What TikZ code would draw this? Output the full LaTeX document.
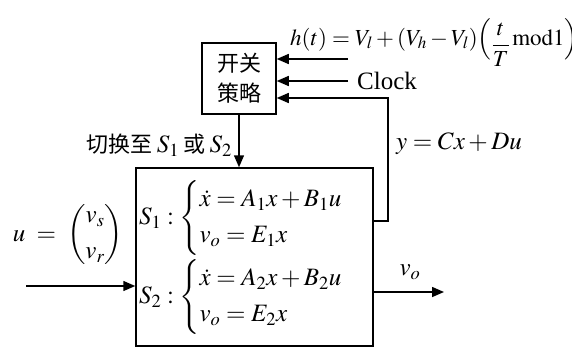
\documentclass[tikz,border=0pt]{standalone}
\usepackage{amsmath}
\usepackage{mathptmx}
\usepackage{fontspec}
\setmainfont{Liberation Serif}
\newfontfamily\cjk{Noto Sans CJK SC}
\usetikzlibrary{arrows.meta}
\tikzset{
  box/.style={draw, line width=1.5pt},
  arr/.style={line width=1.5pt, -{Triangle[length=12pt,width=10pt]}},
  lbl/.style={inner sep=0pt, font=\fontsize{25}{28}\selectfont}
}
\begin{document}
\begin{tikzpicture}[x=1pt,y=-1pt]
\useasboundingbox (0,0) rectangle (572,351);
\node[box, minimum width=74pt, minimum height=71pt, align=center, inner sep=0pt, font=\cjk\fontsize{22}{30}\selectfont] (sw) at (239,78.5) {开关\\策略};
\node[box, minimum width=237pt, minimum height=178pt] (sys) at (254.5,257) {};
% inputs to switching strategy
\coordinate (hin) at (348,59);
\coordinate (cin) at (348,81);
\draw[arr] (hin) -- (hin -| sw.east);
\draw[arr] (cin) -- (cin -| sw.east);
\node[lbl, anchor=base west] (clk) at (357,89) {Clock};
\node[lbl, anchor=base west, font=\fontsize{23}{26}\selectfont] (hfor) at (290,45) {$h(t)=V_l+(V_h-V_l)\Bigl(\lower6pt\hbox{$\displaystyle\frac{t}{T}$}\,\mathrm{mod}1\Bigr)$};
% feedback
\coordinate (fbo) at (373,221);
\coordinate (fbc) at (388,221);
\coordinate (fbt) at (388,98);
\draw[arr] (fbo) -- (fbc) -- (fbt) -- (fbt -| sw.east);
\node[lbl, anchor=west] (ylab) at (396,144) {$y = Cx + Du$};
% switch command
\draw[arr] (sw.south) -- (sw.south |- sys.north);
\node[lbl, anchor=east] (swlab) at (232,145) {{\cjk\fontsize{22}{26}\selectfont 切换至}\,$S_1$\,{\cjk\fontsize{22}{26}\selectfont 或}\,$S_2$};
% input
\coordinate (uin) at (26,286);
\draw[arr] (uin) -- (uin -| sys.west);
\node[lbl] (ulab) at (68,235) {$u\;=\;\begin{pmatrix} v_{s}\\[8pt] v_{r}\end{pmatrix}$};
% output
\coordinate (vout) at (444,292);
\draw[arr] (vout -| sys.east) -- (vout);
\node[lbl] (volab) at (410,272) {$v_o$};
% equations
\node[lbl, anchor=west] (s1) at (139,218) {$S_1:\begin{cases}\dot x = A_1x + B_1u\\[2pt] v_o = E_1x\end{cases}$};
\node[lbl, anchor=west] (s2) at (139,297) {$S_2:\begin{cases}\dot x = A_2x + B_2u\\[2pt] v_o = E_2x\end{cases}$};
\end{tikzpicture}
\end{document}
